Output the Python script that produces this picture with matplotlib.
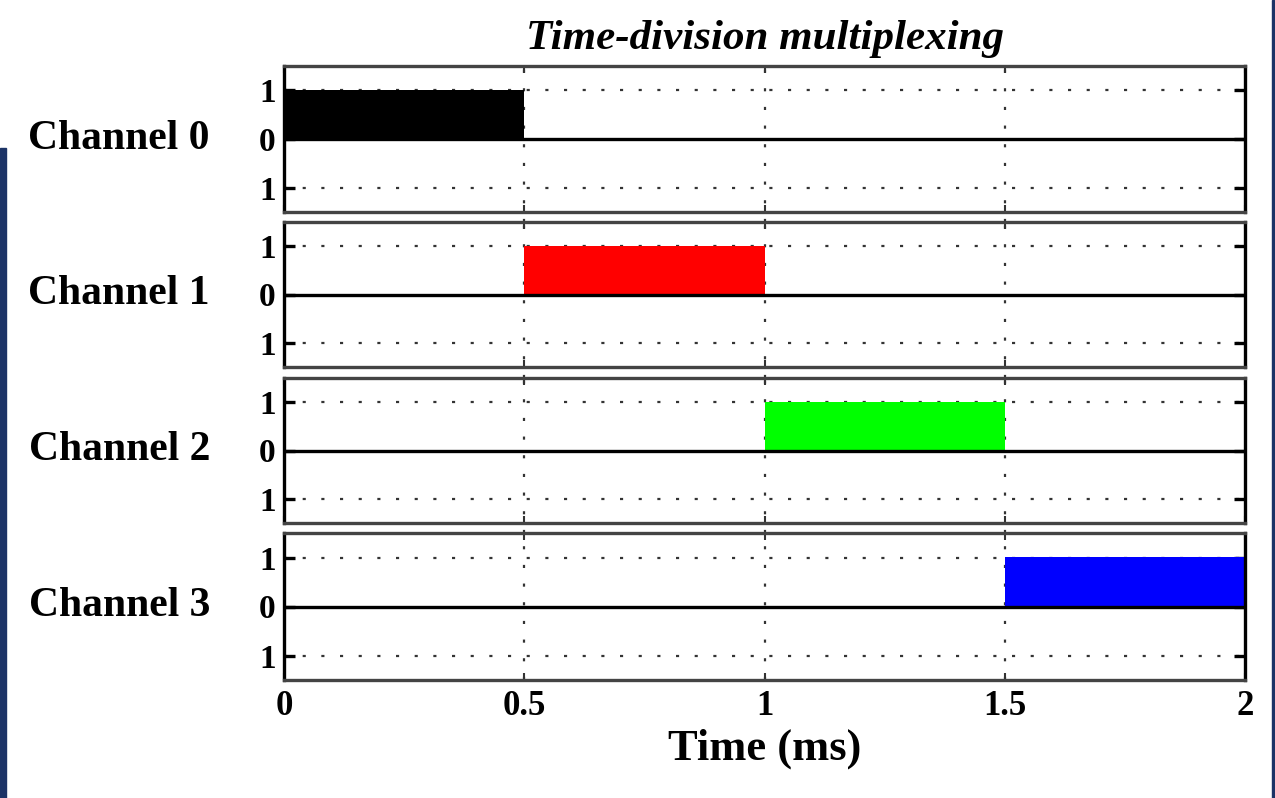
import matplotlib
matplotlib.use("Agg")
import matplotlib.pyplot as plt
from matplotlib.patches import Rectangle
import numpy as np

# Time slots (ms) and the on/off pattern each channel sends
channels = ["Channel 0", "Channel 1", "Channel 2", "Channel 3"]
slot_edges = [0.0, 0.5, 1.0, 1.5, 2.0]
levels = [
    [1, 0, 0, 0],
    [0, 1, 0, 0],
    [0, 0, 1, 0],
    [0, 0, 0, 1],
]
colors = ["#000000", "#ff0000", "#00ff00", "#0000ff"]
xticks = [0, 0.5, 1, 1.5, 2]
xtick_labels = ["0", "0.5", "1", "1.5", "2"]
yticks = [-1, 0, 1]
ytick_labels = ["1", "0", "1"]

plt.rcParams["font.family"] = ["Liberation Serif", "DejaVu Serif"]

W, H = 1275, 798
fig = plt.figure(figsize=(W / 100, H / 100), dpi=100)
fig.patch.set_facecolor("white")

# Axes boxes in pixel coordinates (top, bottom)
left_px, right_px = 284, 1245
boxes = [(66, 212), (222, 367), (378, 523), (533, 680)]

grid_kw = dict(color="#333333", lw=1.6, linestyle=(0, (1.4, 7.0)))

axes = []
for i, (top, bot) in enumerate(boxes):
    ax = fig.add_axes([left_px / W, 1 - bot / H,
                       (right_px - left_px) / W, (bot - top) / H])
    axes.append(ax)
    sig = levels[i] + [levels[i][-1]]
    ax.fill_between(slot_edges, 0, sig, step="post", color=colors[i],
                    lw=0, zorder=2)
    ax.axhline(0, color="black", lw=2.4, zorder=3)
    for y in (-1, 1):
        ax.axhline(y, zorder=1, **grid_kw)
    # vertical slot markers run through the gap to the next panel
    gap = 0.0
    if i < len(boxes) - 1:
        gap = (boxes[i + 1][0] - bot) / (bot - top)
    for x in xticks[1:-1]:
        ax.axvline(x, ymin=-gap, ymax=1, clip_on=False, zorder=1, **grid_kw)

    ax.set_xlim(0, 2)
    ax.set_ylim(-1.5, 1.5)
    ax.set_yticks(yticks)
    ax.set_yticklabels(ytick_labels, fontsize=24, weight="bold")
    ax.tick_params(axis="y", direction="in", length=8, width=2.4,
                   left=True, right=True, pad=6, colors="black")
    ax.set_xticks(xticks)
    ax.tick_params(axis="x", direction="in", length=5, width=1.5,
                   top=True, bottom=True, colors="#333333")
    if i < len(boxes) - 1:
        ax.set_xticklabels([])
    else:
        ax.set_xticklabels(xtick_labels, fontsize=25, color="black",
                           weight="bold")
        ax.tick_params(axis="x", pad=7, labelcolor="black")
        ax.set_xlabel("Time (ms)", fontsize=32, labelpad=4, weight="bold")
    for side in ("left", "right"):
        ax.spines[side].set_color("black")
        ax.spines[side].set_linewidth(2.4)
    for side in ("top", "bottom"):
        ax.spines[side].set_color("#444444")
        ax.spines[side].set_linewidth(2.4)
    ax.text((210 - left_px) / (right_px - left_px), 0.5, channels[i],
            transform=ax.transAxes, ha="right", va="center", fontsize=30,
            weight="bold")

axes[0].set_title("Time-division multiplexing", fontsize=31,
                  style="italic", weight="bold", pad=12)

# slide frame strips at the edges
fig.patches.append(Rectangle((0, 0), 6 / W, 1 - 148 / H,
                             transform=fig.transFigure,
                             color="#1c3366", zorder=10))
fig.patches.append(Rectangle((1272 / W, 0), 2 / W, 1,
                             transform=fig.transFigure,
                             color="#1c3366", zorder=10))

fig.savefig("out.png", dpi=100, facecolor="white")
